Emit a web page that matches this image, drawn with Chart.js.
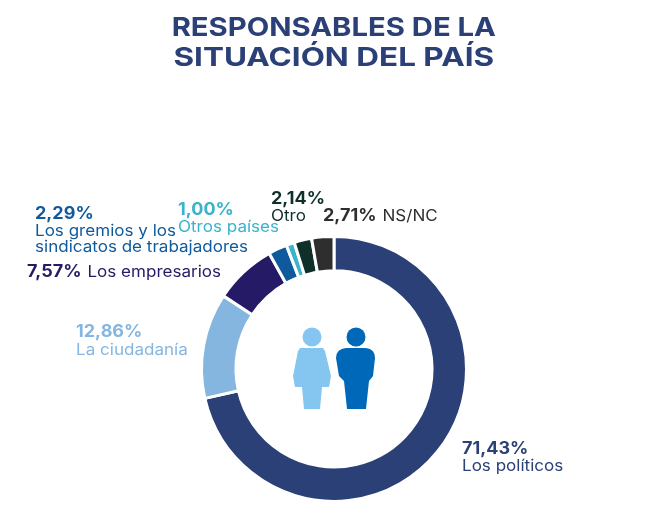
<!DOCTYPE html>
<html>
<head>
<meta charset="utf-8">
<style>
  html, body { margin: 0; padding: 0; background: #fff; }
</style>
<script src="https://cdn.jsdelivr.net/npm/chart.js@4"></script>
</head>
<body>
<canvas id="chart" width="670" height="529" style="display:block;width:670px;height:529px"></canvas>
<script>
const categories = ['Los políticos', 'La ciudadanía', 'Los empresarios', 'Los gremios y los sindicatos de trabajadores', 'Otros países', 'Otro', 'NS/NC'];
const values = [71.43, 12.86, 7.57, 2.29, 1.00, 2.14, 2.71];
const valueLabels = ['71,43%', '12,86%', '7,57%', '2,29%', '1,00%', '2,14%', '2,71%'];
const colors = ['#2a4076', '#85b6e0', '#241a66', '#0f5a9c', '#3ab3cb', '#0f2f2a', '#2e2e2e'];
const titleLines = ['RESPONSABLES DE LA', 'SITUACIÓN DEL PAÍS'];

const FONT = 'Inter, "Open Sans", sans-serif';
const TITLE_STRETCH = 1.21; // the original face is much wider than Inter
const VALUE_STRETCH = 1.06;
const NAME_STRETCH = 1.1;

// where each label goes: x, y of the percent; inline means name follows on same line
const labelSpots = [
  { x: 462, y: 449, nameLines: ['Los políticos'], nameY: 466 },
  { x: 76, y: 332, nameLines: ['La ciudadanía'], nameY: 350 },
  { x: 27, y: 272, inline: true },
  { x: 35, y: 214, nameLines: ['Los gremios y los', 'sindicatos de trabajadores'], nameY: 231 },
  { x: 178, y: 210, nameLines: ['Otros países'], nameY: 227 },
  { x: 271, y: 199, nameLines: ['Otro'], nameY: 216 },
  { x: 323, y: 216, inline: true }
];

function wideText(ctx, text, x, y, stretch) {
  ctx.save();
  ctx.translate(x, y);
  ctx.scale(stretch, 1);
  ctx.fillText(text, 0, 0);
  ctx.restore();
}

// widen only the title, which chart.js draws before the datasets
const titleStretchPlugin = {
  id: 'titleStretch',
  beforeDraw(chart) {
    const ctx = chart.ctx;
    ctx.save();
    ctx.translate(chart.width / 2, 0);
    ctx.scale(TITLE_STRETCH, 1);
    ctx.translate(-chart.width / 2, 0);
  },
  beforeDatasetsDraw(chart) {
    chart.ctx.restore();
  }
};

const labelsPlugin = {
  id: 'labels',
  afterDraw(chart) {
    const ctx = chart.ctx;
    ctx.save();
    ctx.textBaseline = 'middle';
    ctx.textAlign = 'left';
    labelSpots.forEach((s, i) => {
      ctx.fillStyle = colors[i];
      ctx.font = '700 17px ' + FONT;
      wideText(ctx, valueLabels[i], s.x, s.y, VALUE_STRETCH);
      const w = ctx.measureText(valueLabels[i]).width * VALUE_STRETCH;
      ctx.font = '400 15.5px ' + FONT;
      if (s.inline) {
        wideText(ctx, categories[i], s.x + w + 6, s.y, NAME_STRETCH);
      } else {
        s.nameLines.forEach((line, k) => wideText(ctx, line, s.x, s.nameY + k * 16, NAME_STRETCH));
      }
    });
    ctx.restore();
  }
};

// the two little people in the hole of the ring
const peoplePlugin = {
  id: 'people',
  afterDraw(chart) {
    const ctx = chart.ctx;
    ctx.save();
    ctx.fillStyle = '#85c6f0';
    ctx.beginPath();
    ctx.arc(312, 337, 9.5, 0, Math.PI * 2);
    ctx.fill();
    ctx.beginPath();
    [[300, 348], [323, 348], [325, 351], [331, 376], [329, 387], [322, 387], [320, 409], [304, 409], [302, 387], [295, 387], [293, 376], [298, 351]]
      .forEach(p => ctx.lineTo(p[0], p[1]));
    ctx.closePath();
    ctx.fill();

    ctx.fillStyle = '#0068b8';
    ctx.beginPath();
    ctx.arc(356, 337, 9.5, 0, Math.PI * 2);
    ctx.fill();
    ctx.beginPath();
    ctx.moveTo(346, 348);
    ctx.lineTo(366, 348);
    ctx.quadraticCurveTo(375, 349, 375, 358);
    ctx.lineTo(373, 376);
    ctx.lineTo(369, 381);
    ctx.lineTo(366, 409);
    ctx.lineTo(347, 409);
    ctx.lineTo(344, 381);
    ctx.lineTo(339, 376);
    ctx.lineTo(336, 358);
    ctx.quadraticCurveTo(336, 349, 346, 348);
    ctx.closePath();
    ctx.fill();
    ctx.restore();
  }
};

new Chart(document.getElementById('chart').getContext('2d'), {
  type: 'doughnut',
  data: {
    labels: categories,
    datasets: [{
      data: values,
      backgroundColor: colors,
      borderColor: '#fff',
      borderWidth: 3
    }]
  },
  options: {
    responsive: false,
    animation: false,
    cutout: '74%',
    layout: { padding: { left: 200, right: 202, top: 0, bottom: 26 } },
    plugins: {
      legend: { display: false },
      tooltip: { enabled: false },
      title: {
        display: true,
        text: titleLines,
        color: '#2a4076',
        font: { family: FONT, size: 26, weight: '700', lineHeight: 1.15 },
        padding: { top: 13, bottom: 162 }
      }
    }
  },
  plugins: [titleStretchPlugin, labelsPlugin, peoplePlugin]
});
</script>
</body>
</html>
